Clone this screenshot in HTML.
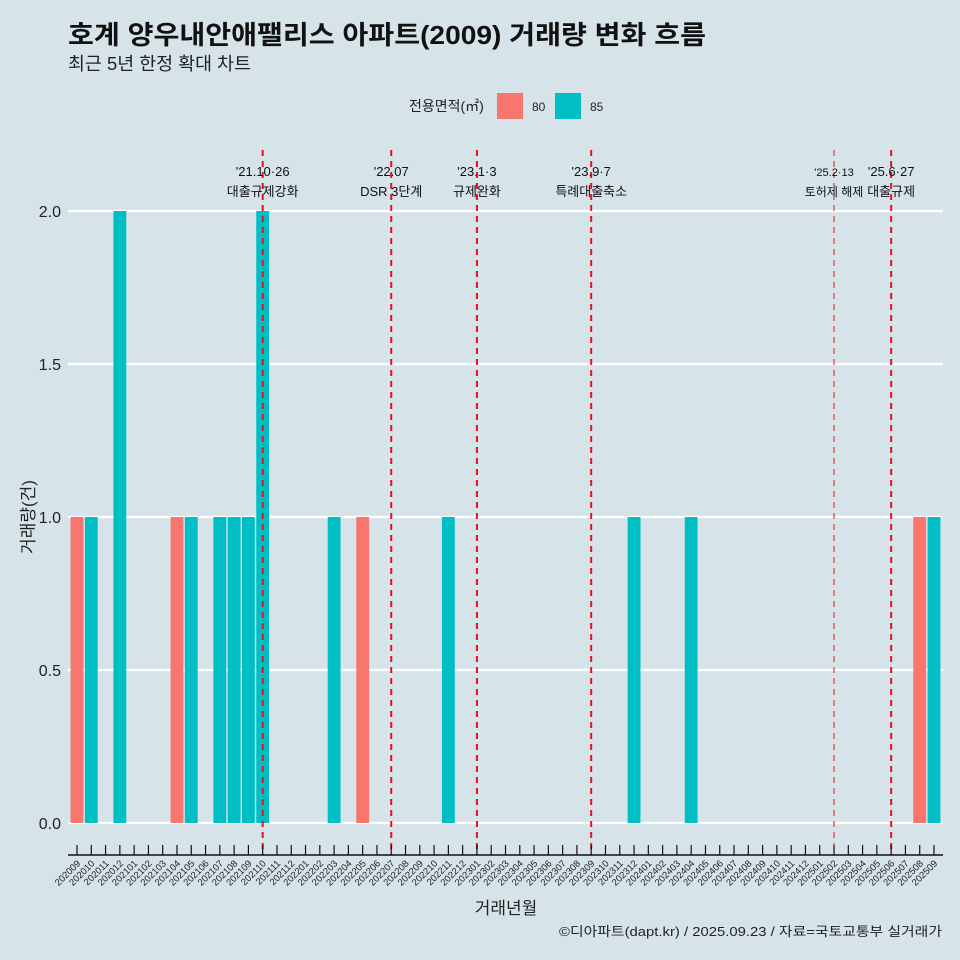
<!DOCTYPE html>
<html><head><meta charset="utf-8"><style>
body{margin:0;background:#d6e4ea;font-family:"Liberation Sans","Noto Sans CJK KR",sans-serif}
svg{display:block}
</style></head><body>
<svg id="c" width="960" height="960" xmlns="http://www.w3.org/2000/svg">
<rect width="960" height="960" fill="#d6e4ea"/>
<text x="68" y="44" font-size="26" font-weight="bold" fill="#111" textLength="638" lengthAdjust="spacingAndGlyphs">호계 양우내안애팰리스 아파트(2009) 거래량 변화 흐름</text>
<text x="68" y="70" font-size="18" fill="#222" textLength="183" lengthAdjust="spacingAndGlyphs">최근 5년 한정 확대 차트</text>
<g>
<text x="409" y="111" font-size="14" fill="#222">전용면적(㎡)</text>
<rect x="497" y="93" width="26" height="26" fill="#f8766d"/>
<text x="532" y="111" font-size="12" fill="#222">80</text>
<rect x="555" y="93" width="26" height="26" fill="#00bfc4"/>
<text x="590" y="111" font-size="12" fill="#222">85</text>
</g>
<g id="grid"></g><g id="bars"></g><g id="events"></g><g id="axes"></g>
<text transform="translate(34,517) rotate(-90)" text-anchor="middle" font-size="17" fill="#222">거래량(건)</text>
<text x="506" y="914" text-anchor="middle" font-size="17" fill="#222">거래년월</text>
<text x="942" y="936" text-anchor="end" font-size="13" fill="#222" textLength="383" lengthAdjust="spacingAndGlyphs">©디아파트(dapt.kr) / 2025.09.23 / 자료=국토교통부 실거래가</text>
</svg>
<script>
const months = [];
for (let y = 2020, m = 9; y * 100 + m <= 202509; ) { months.push(String(y * 100 + m)); m++; if (m > 12) { m = 1; y++; } }
const barMonths = ["202009","202010","202012","202104","202105","202107","202108","202109","202110","202203","202205","202211","202312","202404","202508","202509"];
const barAreas  = ["80","85","85","80","85","85","85","85","85","85","80","85","85","85","80","85"];
const barValues = [1,1,2,1,1,1,1,1,2,1,1,1,1,1,1,1];
const yTicks = [0, 0.5, 1, 1.5, 2];
const yTickLabels = ["0.0","0.5","1.0","1.5","2.0"];
const eventMonths = ["202110","202207","202301","202309","202502","202506"];
const eventDates = ["'21.10·26","'22.07","'23.1·3","'23.9·7","'25.2·13","'25.6·27"];
const eventLabels = ["대출규제강화","DSR 3단계","규제완화","특례대출축소","토허제 해제","대출규제"];

const NS = "http://www.w3.org/2000/svg";
const x0 = 77, step = (934 - 77) / 60;
const X = m => x0 + months.indexOf(m) * step;
const Y = v => 823 - v * 306;
const colors = {"80": "#f8766d", "85": "#00bfc4"};
function el(tag, attrs, parent, text) {
  const e = document.createElementNS(NS, tag);
  for (const k in attrs) e.setAttribute(k, attrs[k]);
  if (text !== undefined) e.textContent = text;
  document.getElementById(parent).appendChild(e);
  return e;
}
yTicks.forEach((t, i) => {
  const g = el("line", {x1: 68, x2: 943, y1: Y(t), y2: Y(t), stroke: "#fff", "stroke-width": 2.2}, "grid");
  
  
  const l = el("text", {x: 61, y: Y(t) + 6, "text-anchor": "end", "font-size": 16, fill: "#222"}, "axes", yTickLabels[i]);
  
  
});
barMonths.forEach((m, i) => {
  const w = step * 0.9;
  const r = el("rect", {x: X(m) - w / 2, y: Y(barValues[i]), width: w, height: Y(0) - Y(barValues[i]), fill: colors[barAreas[i]]}, "bars");
  
  
});
eventMonths.forEach((m, i) => {
  const thin = m === "202502";
  const ln = el("line", {x1: X(m), x2: X(m), y1: 150, y2: 855, stroke: "#e8101c", "stroke-width": thin ? 1 : 2, "stroke-dasharray": "6,5"}, "events");
  
  
  const fs = thin ? 11 : 13;
  const d = el("text", {x: X(m), y: 176, "text-anchor": "middle", "font-size": fs, fill: "#111"}, "events", eventDates[i]);
  
  
  const t = el("text", {x: X(m), y: 196, "text-anchor": "middle", "font-size": thin ? 12 : 13, fill: "#111"}, "events", eventLabels[i]);
  
  
});
const ax = el("line", {x1: 68, x2: 943, y1: 855, y2: 855, stroke: "#111", "stroke-width": 1.5}, "axes");


months.forEach(m => {
  const tk = el("line", {x1: X(m), x2: X(m), y1: 845, y2: 855, stroke: "#111", "stroke-width": 1.2}, "axes");
  
  
  const lb = el("text", {x: X(m) + 4, y: 864, "text-anchor": "end", "font-size": 9.5, fill: "#222", transform: `rotate(-45 ${X(m) + 4} 864)`}, "axes", m);
  
  
});
</script>
</body></html>
